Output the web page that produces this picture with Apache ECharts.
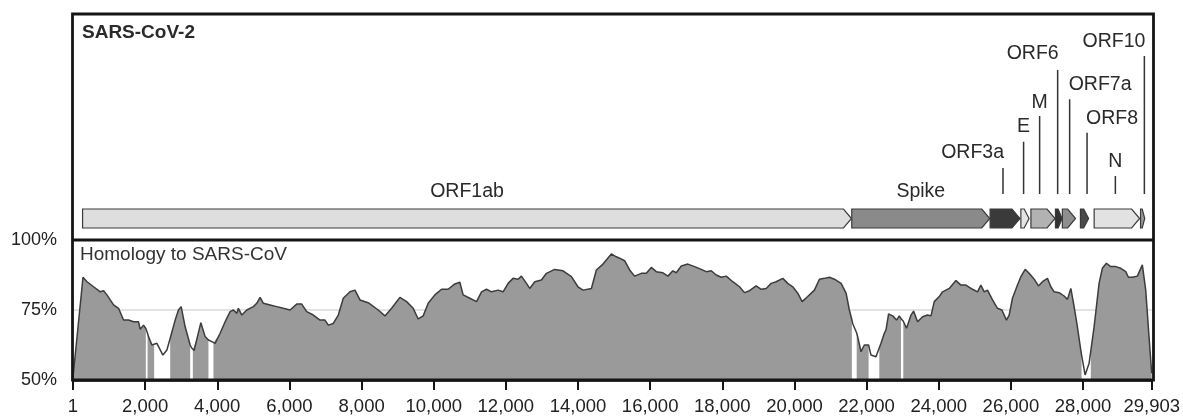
<!DOCTYPE html>
<html>
<head>
<meta charset="utf-8">
<script src="https://cdn.jsdelivr.net/npm/echarts@6/dist/echarts.min.js"></script>
<style>
html,body{margin:0;padding:0;background:#fff;}
#chart{width:1183px;height:419px;}
</style>
</head>
<body>
<div id="chart"></div>
<script>
// ---------- data ----------
const genomeLength = 29903;
const xTicks = [1, 2000, 4000, 6000, 8000, 10000, 12000, 14000, 16000, 18000, 20000, 22000, 24000, 26000, 28000, 29903];
const yTicks = [50, 75, 100];

const positions = [1,278,389,571,757,848,942,1125,1264,1402,1540,1679,1817,1864,1956,2020,2044,2068,2094,2188,
2250,2327,2493,2604,2695,2833,2925,2999,3110,3249,3286,3323,3359,3451,3545,3664,3755,3848,3894,3941,
4079,4218,4356,4448,4542,4586,4680,4819,5001,5095,5187,5278,5464,5649,5832,6017,6203,6341,6480,6663,
6848,6986,7078,7216,7355,7493,7679,7817,7956,8185,8462,8648,8833,9063,9248,9431,9570,9708,9847,10032,
10218,10400,10586,10724,10816,11001,11187,11325,11463,11602,11785,11923,12062,12200,12338,12432,12571,12662,12801,12986,
13125,13354,13584,13817,13999,14138,14371,14509,14692,14924,15063,15154,15292,15431,15569,15755,15893,16032,16170,16353,
16492,16630,16724,16863,17045,17231,17416,17555,17693,17831,17970,18108,18291,18477,18615,18754,18939,19077,19216,19354,
19493,19676,19814,19953,20091,20213,20368,20553,20692,20830,20969,21107,21293,21431,21522,21591,21613,21725,21752,21845,
21936,22055,22122,22260,22352,22399,22491,22538,22610,22721,22832,22906,22952,22985,23017,23108,23230,23302,23413,23551,
23690,23784,23875,24014,24105,24291,24476,24615,24753,24936,25074,25168,25260,25351,25490,25628,25750,25877,25952,26043,
26182,26276,26395,26506,26645,26764,26875,27013,27107,27199,27337,27475,27567,27661,27752,27843,27937,27958,28057,28168,
28215,28306,28444,28536,28647,28768,28907,29045,29184,29256,29367,29505,29643,29737,29828,29903];

const homology = [51.0,86.7,85.1,83.3,81.5,81.9,80.4,76.8,75.6,71.4,71.4,70.8,70.8,68.1,69.6,68.4,67.5,66.6,65.5,62.5,
62.8,63.1,58.9,60.7,64.9,71.4,75.0,76.2,69.0,62.5,61.5,60.8,60.5,65.5,70.5,65.5,64.3,63.7,63.2,63.1,
66.7,70.8,74.4,75.0,73.8,75.6,73.2,75.0,76.2,77.4,79.5,77.4,76.8,76.2,75.6,75.0,77.1,77.1,74.4,73.2,
71.4,71.4,69.6,70.2,73.2,79.2,81.5,82.1,78.6,77.6,75.0,72.9,75.6,79.5,78.0,75.6,71.8,72.9,77.4,80.4,
82.4,82.4,84.3,84.9,80.4,79.2,78.0,81.5,82.4,81.5,82.1,81.5,84.5,86.3,86.0,87.1,84.5,82.7,85.1,85.7,
88.1,89.5,89.0,86.9,83.3,82.1,82.7,89.3,91.4,95.0,94.0,93.5,92.6,89.3,87.1,88.1,88.1,90.2,88.7,88.3,
87.1,89.0,88.3,90.7,91.4,90.5,89.5,88.7,89.0,87.5,86.7,87.1,85.1,83.3,81.2,81.9,83.6,82.4,82.7,84.5,
85.1,86.3,84.5,83.3,81.0,78.0,79.8,82.1,86.0,86.3,86.7,86.0,84.5,81.0,75.0,71.5,70.2,66.8,65.5,60.1,
62.5,62.5,58.9,58.3,61.5,63.1,66.7,67.9,73.6,72.9,71.4,72.9,72.0,71.5,71.0,68.5,73.2,74.6,70.8,72.6,
73.2,72.9,78.0,79.8,81.5,82.7,85.5,83.9,83.9,82.4,81.5,83.9,81.5,82.1,78.6,75.6,75.0,71.4,73.2,79.2,
83.9,86.9,89.5,88.1,86.0,83.6,85.1,86.3,83.3,81.5,81.2,80.0,78.8,82.7,76.2,69.0,60.7,59.0,51.8,56.0,
60.4,69.0,84.5,89.9,91.7,90.5,90.5,89.9,88.7,86.7,86.7,87.1,91.1,82.1,65.5,52.4];

// alignment gaps (no fill between these genome positions)
const gaps = [[2020,2068],[2250,2695],[3249,3323],[3755,3894],[21591,21725],[22055,22352],[22952,23017],[27958,28215]];

const genes     = ['ORF1ab','Spike','ORF3a','E','M','ORF6','ORF7a','ORF8','N','ORF10'];
const geneStart = [266, 21563, 25393, 26245, 26523, 27202, 27394, 27894, 28274, 29558];
const geneEnd   = [21555, 25384, 26220, 26472, 27191, 27387, 27759, 28120, 29533, 29674];
const labelAt   = [null, null, 25750, 26320, 26764, 27263, 27595, 28077, 28861, 29664];

// ---------- styles / layout ----------
const geneColors = ['#dedede','#8a8a8a','#3a3a3a','#e4e4e4','#b2b2b2','#333333','#8e8e8e','#4a4a4a','#e2e2e2','#9a9a9a'];
// y offsets (px from top of the gene panel), text alignment
const labelLayout = {
  'ORF1ab': {y:178, align:'center'},
  'Spike':  {y:177.5, align:'center'},
  'ORF3a':  {y:139, align:'right', lineTop:154},
  'E':      {y:112.7, align:'center', lineTop:127.7},
  'M':      {y:89, align:'center', lineTop:102},
  'ORF6':   {y:40, align:'right', lineTop:56},
  'ORF7a':  {y:71, align:'left', lineTop:85.3},
  'ORF8':   {y:104.3, align:'left', lineTop:118.7},
  'N':      {y:147.7, align:'center', lineTop:162},
  'ORF10':  {y:27.7, align:'right', lineTop:42}
};
const LINE_BOTTOM = 180, BAR_TOP = 195, BAR_BOT = 214;
const FONT = 'Liberation Sans, Arial, Helvetica, sans-serif';

const lineData = positions.map((p, i) => [p, homology[i]]);
const areaData = positions.map((p, i) => gaps.some(g => p > g[0] && p < g[1]) ? [p, '-'] : [p, homology[i]]);

const chart = echarts.init(document.getElementById('chart'), null, {renderer: 'canvas'});

const option = {
  animation: false,
  backgroundColor: '#fff',
  grid: [
    {left: 73, right: 30, top: 240, height: 140},
    {left: 73, right: 30, top: 14, height: 226}
  ],
  xAxis: [
    {
      type: 'value', gridIndex: 0, min: 1, max: genomeLength,
      axisLine: {show: true, lineStyle: {color: '#151515', width: 2.5}},
      axisTick: {show: true, customValues: xTicks, length: 10, lineStyle: {color: '#151515', width: 2}},
      axisLabel: {customValues: xTicks, fontSize: 18.5, fontFamily: FONT, color: '#222', margin: 17,
        formatter: v => Number(v).toLocaleString('en-US')},
      splitLine: {show: false}
    },
    {type: 'value', gridIndex: 1, min: 1, max: genomeLength, show: false}
  ],
  yAxis: [
    {
      type: 'value', gridIndex: 0, min: 50, max: 100, interval: 25,
      axisLine: {show: false}, axisTick: {show: false},
      axisLabel: {fontSize: 18, fontFamily: FONT, color: '#222', margin: 16, formatter: '{value}%'},
      splitLine: {show: true, lineStyle: {color: '#dadada', width: 1.5}}
    },
    {type: 'value', gridIndex: 1, min: 0, max: 226, inverse: true, show: false}
  ],
  series: [
    {
      type: 'line', xAxisIndex: 0, yAxisIndex: 0, data: areaData, symbol: 'none', connectNulls: false,
      lineStyle: {width: 0, opacity: 0}, areaStyle: {color: '#9a9a9a', opacity: 1}, silent: true, z: 2
    },
    {
      type: 'line', xAxisIndex: 0, yAxisIndex: 0, data: lineData, symbol: 'none',
      lineStyle: {color: '#3c3c3c', width: 1.5}, silent: true, z: 3
    },
    {
      type: 'custom', xAxisIndex: 1, yAxisIndex: 1, silent: true, z: 4,
      data: genes.map((g, i) => [i]),
      renderItem: function (params, api) {
        const i = api.value(0);
        const x0 = api.coord([geneStart[i], 0])[0];
        const x1 = api.coord([geneEnd[i], 0])[0];
        const yT = api.coord([1, BAR_TOP])[1];
        const yB = api.coord([1, BAR_BOT])[1];
        const yM = (yT + yB) / 2;
        const w = x1 - x0;
        const tip = Math.min(8, w * 0.6);
        return {
          type: 'polygon',
          shape: {points: [[x0, yT], [x1 - tip, yT], [x1, yM], [x1 - tip, yB], [x0, yB]]},
          style: {fill: geneColors[i], stroke: '#3a3a3a', lineWidth: 1.2}
        };
      }
    },
    {
      type: 'custom', xAxisIndex: 1, yAxisIndex: 1, silent: true, z: 5,
      data: genes.map((g, i) => [i]),
      renderItem: function (params, api) {
        const i = api.value(0);
        const name = genes[i];
        const L = labelLayout[name];
        const children = [];
        let tx;
        if (labelAt[i] == null) {
          tx = api.coord([(geneStart[i] + geneEnd[i]) / 2, 0])[0];
        } else {
          const lx = api.coord([labelAt[i], 0])[0];
          const yTop = api.coord([1, L.lineTop])[1];
          const yBot = api.coord([1, LINE_BOTTOM])[1];
          children.push({type: 'line', shape: {x1: lx, y1: yTop, x2: lx, y2: yBot},
            style: {stroke: '#333', lineWidth: 1.5}});
          tx = L.align === 'right' ? lx + 1 : (L.align === 'left' ? lx - 1 : lx);
        }
        const ty = api.coord([1, L.y])[1];
        children.push({type: 'text', x: tx, y: ty,
          style: {text: name, fontSize: 19.5, fontFamily: FONT, fill: '#2a2a2a',
            align: L.align, verticalAlign: 'middle'}});
        return {type: 'group', children: children};
      }
    }
  ],
  graphic: [
    {type: 'rect', z: 100, silent: true, shape: {x: 72.5, y: 14, width: 1081, height: 366},
      style: {fill: 'none', stroke: '#151515', lineWidth: 2.8}},
    {type: 'line', z: 100, silent: true, shape: {x1: 72.5, y1: 240, x2: 1153.5, y2: 240},
      style: {stroke: '#151515', lineWidth: 2.8}},
    {type: 'text', z: 100, silent: true, x: 82, y: 33,
      style: {text: 'SARS-CoV-2', fontSize: 19, fontWeight: 'bold', fontFamily: FONT, fill: '#2a2a2a', verticalAlign: 'middle'}},
    {type: 'text', z: 100, silent: true, x: 80, y: 255,
      style: {text: 'Homology to SARS-CoV', fontSize: 19, fontFamily: FONT, fill: '#333', verticalAlign: 'middle'}}
  ]
};
chart.setOption(option);
</script>
</body>
</html>
